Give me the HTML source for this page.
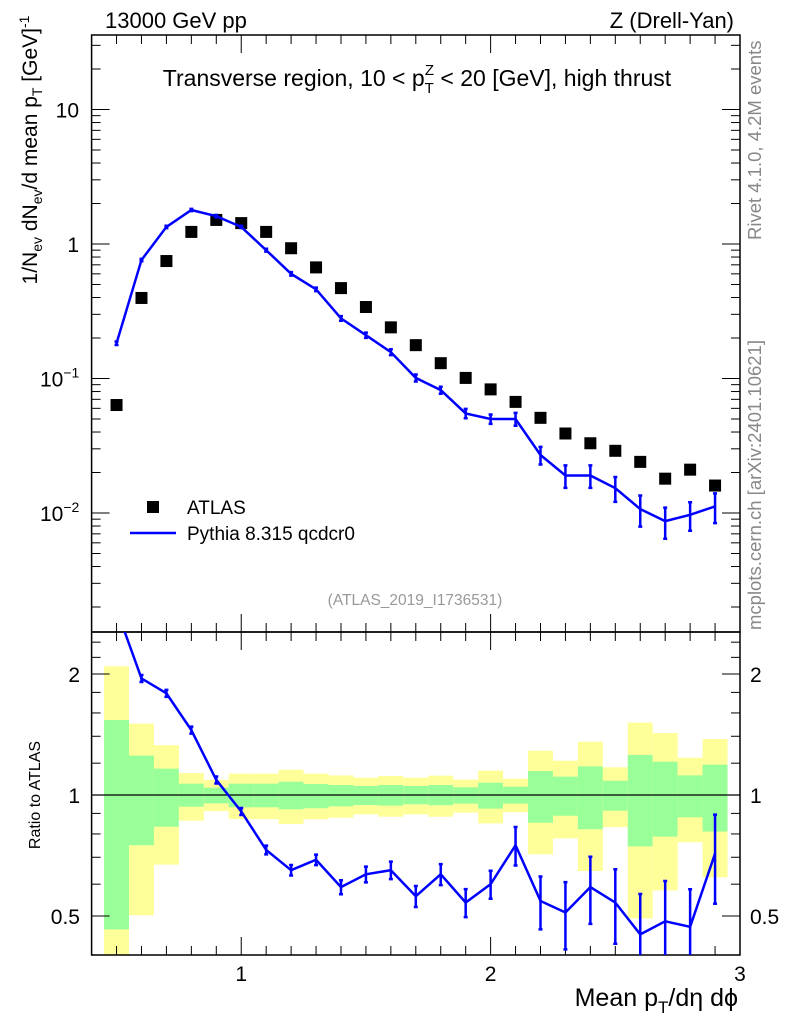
<!DOCTYPE html>
<html><head><meta charset="utf-8"><style>
body{margin:0;background:#fff}
svg text{font-family:"Liberation Sans",Arial,sans-serif}
</style></head><body>
<svg id="c" width="786" height="1024" viewBox="0 0 786 1024" xmlns="http://www.w3.org/2000/svg">
<rect width="786" height="1024" fill="#fff"/>
<g id="bands"></g><g id="grid"></g><g id="marks"></g>
<text x="105" y="28" font-size="22">13000 GeV pp</text>
<text x="734" y="28" font-size="22" text-anchor="end">Z (Drell-Yan)</text>
<text x="417" y="86" font-size="23" text-anchor="middle">Transverse region, 10 &lt; p<tspan font-size="15" dy="7">T</tspan><tspan font-size="15" dx="-9" dy="-18">Z</tspan><tspan dy="11"> &lt; 20 [GeV], high thrust</tspan></text>
<text transform="translate(761,240) rotate(-90)" font-size="18.5" fill="#888">Rivet 4.1.0,  4.2M events</text>
<text transform="translate(761,630) rotate(-90)" font-size="18.5" fill="#888">mcplots.cern.ch [arXiv:2401.10621]</text>
<text x="415" y="605" font-size="15.5" fill="#999" text-anchor="middle">(ATLAS_2019_I1736531)</text>
<text transform="translate(37,150) rotate(-90)" font-size="21" text-anchor="middle">1/N<tspan font-size="14" dy="5">ev</tspan><tspan dy="-5"> dN</tspan><tspan font-size="14" dy="5">ev</tspan><tspan dy="-5">/d mean p</tspan><tspan font-size="14" dy="5">T</tspan><tspan dy="-5"> [GeV]</tspan><tspan font-size="14" dy="-8">-1</tspan></text>
<text transform="translate(40,795) rotate(-90)" font-size="16" text-anchor="middle">Ratio to ATLAS</text>
<text x="738" y="1006" font-size="25" text-anchor="end">Mean p<tspan font-size="17" dy="7">T</tspan><tspan dy="-7">/dη dϕ</tspan></text>
<rect x="147" y="501" width="12" height="12" fill="#000"/>
<text x="187" y="514" font-size="19">ATLAS</text>
<line x1="130" y1="533" x2="176" y2="533" stroke="#00f" stroke-width="2.5"/>
<text x="187" y="540" font-size="19">Pythia 8.315 qcdcr0</text>
</svg>
<script>
const xCenters=[0.5,0.6,0.7,0.8,0.9,1.0,1.1,1.2,1.3,1.4,1.5,1.6,1.7,1.8,1.9,2.0,2.1,2.2,2.3,2.4,2.5,2.6,2.7,2.8,2.9];
const atlasVals=[0.0635,0.397,0.747,1.23,1.51,1.43,1.23,0.93,0.67,0.47,0.34,0.24,0.177,0.13,0.101,0.083,0.067,0.051,0.039,0.033,0.029,0.024,0.018,0.021,0.016];
const mcVals=[0.183,0.76,1.34,1.79,1.61,1.34,0.90,0.60,0.46,0.28,0.21,0.157,0.101,0.082,0.055,0.050,0.050,0.027,0.019,0.019,0.0153,0.0107,0.0087,0.0097,0.0112];
const mcRelErr=[0.03,0.02,0.02,0.02,0.02,0.02,0.025,0.03,0.03,0.04,0.045,0.05,0.06,0.06,0.08,0.08,0.11,0.15,0.19,0.19,0.21,0.26,0.26,0.24,0.25];
const ratioVals=[2.9,1.95,1.79,1.45,1.09,0.91,0.73,0.65,0.69,0.59,0.635,0.65,0.56,0.635,0.54,0.60,0.75,0.545,0.51,0.59,0.54,0.45,0.485,0.47,0.715];
const yellowUp=[2.09,1.505,1.33,1.134,1.09,1.13,1.13,1.156,1.13,1.119,1.104,1.115,1.104,1.117,1.092,1.15,1.098,1.289,1.217,1.357,1.172,1.514,1.426,1.238,1.378];
const greenUp=[1.537,1.253,1.163,1.067,1.043,1.067,1.067,1.079,1.065,1.059,1.053,1.059,1.053,1.059,1.045,1.073,1.049,1.147,1.111,1.178,1.085,1.258,1.21,1.119,1.19];
const greenDn=[0.463,0.75,0.834,0.935,0.953,0.932,0.932,0.921,0.927,0.937,0.944,0.941,0.948,0.943,0.952,0.925,0.952,0.853,0.888,0.822,0.914,0.745,0.788,0.88,0.811];
const yellowDn=[0.3,0.502,0.671,0.863,0.912,0.871,0.871,0.847,0.87,0.878,0.895,0.883,0.895,0.883,0.904,0.85,0.906,0.712,0.78,0.647,0.832,0.493,0.579,0.763,0.624];
const xTicks=["1","2","3"];
const mainTicks=["10","1","10","10"];
const ratioTicks=["0.5","1","2"];

const NS="http://www.w3.org/2000/svg";
const L=91.6,R=740,T=35,MB=632,RB=955;
const X=v=>L+(v-0.4)*(R-L)/2.6;
const Y=v=>244-134.5*Math.log10(v);
const YR=v=>795-121*Math.log2(v);
const clampR=y=>Math.max(MB,Math.min(RB,y));
function mk(tag,attrs,parent){const e=document.createElementNS(NS,tag);for(const k in attrs)e.setAttribute(k,attrs[k]);parent.appendChild(e);return e;}
const bands=document.getElementById('bands'),grid=document.getElementById('grid'),marks=document.getElementById('marks');
const w=0.05;
xCenters.forEach((x,i)=>{
  let r=mk('rect',{x:X(x-w),y:clampR(YR(yellowUp[i])),width:X(x+w)-X(x-w),height:clampR(YR(yellowDn[i]))-clampR(YR(yellowUp[i])),fill:'#ffff99'},bands);
  
  
  let g=mk('rect',{x:X(x-w),y:clampR(YR(greenUp[i])),width:X(x+w)-X(x-w),height:clampR(YR(greenDn[i]))-clampR(YR(greenUp[i])),fill:'#99ff99'},bands);
  
  
});
let f1=mk('rect',{x:L,y:T,width:R-L,height:MB-T,fill:'none',stroke:'#000','stroke-width':1.5},grid);

let f2=mk('rect',{x:L,y:MB,width:R-L,height:RB-MB,fill:'none',stroke:'#000','stroke-width':1.5},grid);

let one=mk('line',{x1:L,x2:R,y1:YR(1),y2:YR(1),stroke:'#000','stroke-width':1.3},grid);

for(let k=5;k<=29;k++){const v=k/10,x=X(v),big=k%10==0,len=big?18:9;
  [[T,1],[MB,-1],[MB,1],[RB,-1]].forEach(([y0,d])=>mk('line',{x1:x,x2:x,y1:y0,y2:y0+d*len,stroke:'#000','stroke-width':1},grid));}
xTicks.forEach(t=>{const e=mk('text',{x:X(+t),y:981,'font-size':21,'text-anchor':'middle'},grid);e.textContent=t;
  });
for(let d=-3;d<=1;d++)for(let m=1;m<10;m++){const v=m*Math.pow(10,d),y=Y(v);if(y<T||y>MB)continue;const len=m==1?18:9;
  mk('line',{x1:L,x2:L+len,y1:y,y2:y,stroke:'#000'},grid);mk('line',{x1:R,x2:R-len,y1:y,y2:y,stroke:'#000'},grid);}
const mainTickVals=[10,1,0.1,0.01],mainExp=["","","−1","−2"];
mainTicks.forEach((t,i)=>{const e=mk('text',{x:79,y:Y(mainTickVals[i])+8,'font-size':21,'text-anchor':'end'},grid);
  
  e.textContent=t;if(mainExp[i]){const s=mk('tspan',{'font-size':14,dy:-9},e);s.textContent=mainExp[i];e.setAttribute('text-anchor','start');e.setAttribute('x',40);}});
[0.4,0.5,0.6,0.7,0.8,0.9,1,2,1.2,1.4,1.6,1.8,2.2,2.4].forEach(v=>{const y=YR(v);if(y<MB||y>RB)return;const len=(v==0.5||v==1||v==2)?18:9;
  mk('line',{x1:L,x2:L+len,y1:y,y2:y,stroke:'#000'},grid);mk('line',{x1:R,x2:R-len,y1:y,y2:y,stroke:'#000'},grid);});
ratioTicks.forEach(t=>{[[80,'end'],[750,'start']].forEach(([x,a])=>{const e=mk('text',{x:x,y:YR(+t)+8,'font-size':21,'text-anchor':a},grid);e.textContent=t;
  });});
xCenters.forEach((x,i)=>{const r=mk('rect',{x:X(x)-6,y:Y(atlasVals[i])-6,width:12,height:12,fill:'#000'},marks);
  });
const pl=mk('polyline',{points:xCenters.map((x,i)=>X(x)+','+Y(mcVals[i])).join(' '),fill:'none',stroke:'#00f','stroke-width':2.5},marks);

xCenters.forEach((x,i)=>{const y1=Y(mcVals[i]*(1+mcRelErr[i])),y2=Y(mcVals[i]*(1-mcRelErr[i])),xx=X(x);
  const e=mk('path',{d:`M${xx},${y1}V${y2}M${xx-2},${y1}h4M${xx-2},${y2}h4`,stroke:'#00f','stroke-width':2.5,fill:'none'},marks);
  });
const cp=mk('clipPath',{id:'rc'},marks);mk('rect',{x:L,y:MB,width:R-L,height:RB-MB},cp);
const rg=mk('g',{'clip-path':'url(#rc)'},marks);
const rl=mk('polyline',{points:xCenters.map((x,i)=>X(x)+','+YR(ratioVals[i])).join(' '),fill:'none',stroke:'#00f','stroke-width':2.5},rg);

xCenters.forEach((x,i)=>{const y1=YR(ratioVals[i]*(1+mcRelErr[i])),y2=YR(ratioVals[i]*(1-mcRelErr[i])),xx=X(x);
  const e=mk('path',{d:`M${xx},${y1}V${y2}M${xx-2},${y1}h4M${xx-2},${y2}h4`,stroke:'#00f','stroke-width':2.5,fill:'none'},rg);
  });
</script>
</body></html>
